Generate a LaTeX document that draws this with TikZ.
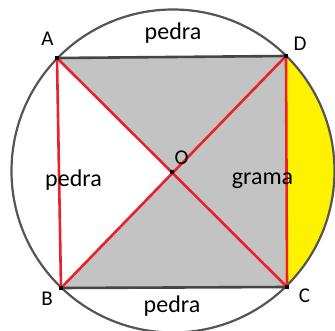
\documentclass[tikz,border=0pt]{standalone}
\usepackage{fontspec}
\setmainfont{Carlito}
\usetikzlibrary{calc}
\definecolor{rim}{HTML}{555555}
\definecolor{edge}{HTML}{454545}
\definecolor{chord}{HTML}{E8222C}
\definecolor{stone}{HTML}{C3C3C3}
\definecolor{lawn}{HTML}{FFF200}
\begin{document}
\begin{tikzpicture}[
      x=1pt, y=-1pt,
      rimline/.style={draw=rim, line width=2.2pt},
      sideline/.style={draw=edge, line width=2.6pt},
      redline/.style={draw=chord, line width=2.6pt, line cap=round},
      corner/.style={fill=black, minimum size=4pt, inner sep=0pt, rectangle},
      vlabel/.style={font=\fontsize{21}{24}\selectfont, anchor=base, inner sep=0pt},
      zlabel/.style={font=\fontsize{24}{28}\selectfont, anchor=base, inner sep=0pt}
    ]
      \useasboundingbox (0,0) rectangle (335,331);
      \coordinate (M) at (173,171);
      \coordinate (A) at (57,58);
      \coordinate (D) at (286,56);
      \coordinate (C) at (287,287);
      \coordinate (B) at (61,288);
      \coordinate (O) at (172,172);
      % shaded parts
      \fill[stone] (A) -- (D) -- (C) -- (B) -- (O) -- cycle;
      \fill[lawn] (D) arc[start angle=-45.5, end angle=45.8, radius=161.5] -- cycle;
      \draw[rimline] (M) circle[radius=161.5];
      \draw[sideline] (A) -- (D);
      \draw[sideline] (B) -- (C);
      \draw[redline] (A) -- (B);
      \draw[redline] (D) -- (C);
      \draw[redline] (A) -- (C);
      \draw[redline] (D) -- (B);
      \foreach \p in {A,B,C,D,O}
        \node[corner] at (\p) {};
      % labels
      \node[vlabel] (lA) at (47.5,46) {A};
      \node[vlabel] (lD) at (300,51) {D};
      \node[vlabel] (lB) at (47,306) {B};
      \node[vlabel] (lC) at (304.5,303) {C};
      \node[vlabel] (lO) at (181.5,165) {O};
      \node[zlabel] (top) at (173,40) {pedra};
      \node[zlabel] (left) at (73.5,187) {pedra};
      \node[zlabel] (right) at (262.5,185) {grama};
      \node[zlabel] (bottom) at (172,313) {pedra};
    \end{tikzpicture}
\end{document}
